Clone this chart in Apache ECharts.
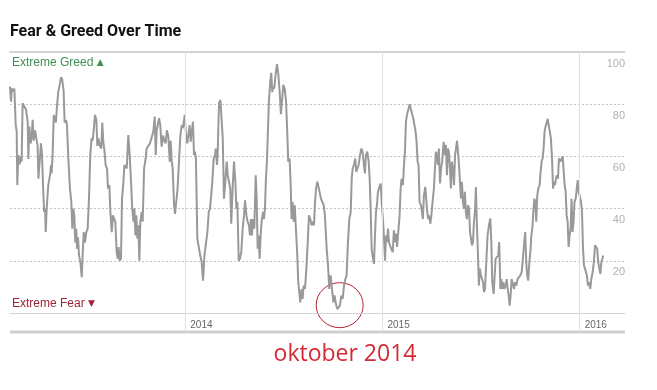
<!DOCTYPE html>
<html><head><meta charset="utf-8">
<script src="https://cdn.jsdelivr.net/npm/echarts@6/dist/echarts.min.js"></script>
<style>html,body{margin:0;padding:0;background:#fff}#c{width:657px;height:390px}</style>
</head><body><div id="c"></div>
<script>
// time in decimal years
const dates = [
2013.111,2013.116,2013.120,2013.128,2013.133,2013.140,2013.145,2013.148,2013.153,2013.160,2013.167,2013.170,2013.175,2013.184,2013.192,2013.201,2013.204,2013.209,2013.216,2013.221,2013.226,2013.231,2013.238,2013.246,2013.251,2013.255,2013.262,2013.268,2013.273,2013.278,2013.284,2013.289,2013.292,2013.297,2013.305,2013.314,2013.319,2013.322,2013.327,2013.333,2013.339,2013.344,2013.349,2013.356,2013.363,2013.370,2013.376,2013.383,2013.388,2013.395,2013.400,2013.407,2013.415,2013.422,2013.427,2013.432,2013.437,2013.442,2013.447,2013.451,2013.456,2013.461,2013.468,2013.475,2013.480,2013.485,2013.491,2013.498,2013.505,2013.512,2013.518,2013.525,2013.530,2013.535,2013.542,2013.549,2013.554,2013.559,2013.567,2013.574,2013.579,2013.584,2013.589,2013.596,2013.603,2013.608,2013.615,2013.620,2013.627,2013.633,2013.640,2013.645,2013.652,2013.657,2013.662,2013.667,2013.674,2013.679,2013.686,2013.691,
2013.703,2013.711,2013.718,2013.725,2013.731,2013.737,2013.742,2013.747,2013.752,2013.757,2013.762,2013.767,2013.772,2013.779,2013.784,2013.791,2013.799,2013.804,2013.813,2013.821,2013.829,2013.838,2013.845,2013.850,2013.855,2013.862,2013.867,2013.873,2013.880,2013.887,2013.894,2013.900,2013.907,2013.914,2013.921,2013.926,2013.931,2013.936,2013.943,2013.948,2013.956,2013.961,2013.968,2013.975,2013.982,2013.988,2013.997,2014.004,2014.010,2014.015,2014.022,2014.027,2014.032,2014.039,2014.044,2014.049,2014.054,2014.061,2014.069,2014.076,2014.083,2014.090,2014.097,2014.105,2014.112,2014.119,2014.125,2014.130,2014.137,2014.144,2014.151,2014.154,2014.161,2014.164,2014.171,2014.178,2014.184,2014.190,2014.196,2014.203,2014.210,2014.215,2014.222,2014.228,2014.233,2014.240,2014.247,2014.254,2014.259,2014.264,2014.271,2014.277,2014.284,2014.291,2014.298,
2014.303,2014.310,2014.316,2014.323,2014.328,2014.333,2014.338,2014.343,2014.350,2014.357,2014.362,2014.367,2014.372,2014.377,2014.382,2014.387,2014.394,2014.399,2014.404,2014.409,2014.414,2014.419,2014.424,2014.431,2014.436,2014.441,2014.446,2014.451,2014.458,2014.465,2014.472,2014.479,2014.485,2014.492,2014.497,2014.504,2014.511,2014.517,2014.522,2014.529,2014.534,2014.539,2014.544,2014.550,2014.555,2014.561,2014.568,2014.573,2014.578,2014.583,2014.590,2014.595,2014.600,2014.607,2014.614,2014.621,2014.627,2014.634,2014.641,2014.648,2014.653,2014.658,2014.663,2014.670,2014.676,2014.681,2014.688,2014.695,2014.702,2014.708,2014.717,2014.724,2014.730,2014.737,2014.744,2014.751,2014.757,2014.764,2014.771,2014.778,2014.784,2014.791,2014.798,2014.805,2014.812,2014.818,2014.825,2014.832,2014.839,2014.844,2014.849,2014.855,2014.862,2014.867,2014.872,2014.879,2014.886,2014.893,2014.899,2014.906,
2014.911,2014.916,2014.923,2014.930,2014.935,2014.940,2014.945,2014.952,2014.957,2014.962,2014.967,2014.972,2014.977,2014.984,2014.991,2014.996,2015.003,2015.008,2015.013,2015.018,2015.023,2015.028,2015.033,2015.038,2015.045,2015.052,2015.058,2015.063,2015.068,2015.074,2015.080,2015.087,2015.092,2015.097,2015.104,2015.109,2015.114,2015.119,2015.126,2015.133,2015.138,2015.145,2015.150,2015.156,2015.163,2015.168,2015.173,2015.178,2015.183,2015.188,2015.195,2015.200,2015.205,2015.210,2015.217,2015.222,2015.227,2015.232,2015.237,2015.243,2015.248,2015.254,2015.261,2015.266,2015.271,2015.276,2015.281,2015.286,2015.292,2015.297,2015.303,2015.310,2015.317,2015.322,2015.327,2015.332,2015.337,2015.342,2015.347,2015.352,2015.357,2015.363,2015.368,2015.373,2015.378,2015.383,2015.388,2015.393,2015.398,2015.403,2015.408,2015.413,2015.418,2015.423,2015.428,2015.434,2015.439,2015.444,2015.449,2015.454,2015.459,2015.464,2015.469,2015.474,2015.479,2015.484,2015.489,2015.494,2015.499,2015.505,2015.510,2015.515,
2015.520,2015.533,2015.540,2015.547,2015.552,2015.557,2015.564,2015.569,2015.574,2015.581,2015.587,2015.592,2015.598,2015.603,2015.608,2015.613,2015.618,2015.625,2015.630,2015.635,2015.640,2015.645,2015.650,2015.655,2015.662,2015.667,2015.672,2015.679,2015.685,2015.692,2015.699,2015.706,2015.712,2015.719,2015.724,2015.729,2015.734,2015.739,2015.745,2015.750,2015.755,2015.760,2015.765,2015.770,2015.775,2015.780,2015.785,2015.790,2015.797,2015.802,2015.807,2015.812,2015.817,2015.822,2015.827,2015.832,2015.838,2015.843,2015.849,2015.854,2015.860,2015.865,2015.870,2015.875,2015.880,2015.885,2015.890,2015.895,2015.902,2015.909,2015.914,2015.919,2015.924,2015.929,2015.934,2015.939,2015.944,2015.949,2015.954,2015.959,2015.964,2015.969,2015.974,2015.980,2015.985,2015.990,2015.995,2016.000,2016.007,2016.012,2016.017,2016.022,2016.027,2016.032,2016.037,2016.042,2016.047,2016.054,2016.059,2016.066,2016.072,2016.078,2016.084,2016.089,2016.094,2016.100,2016.105,2016.110,2016.115,2016.120
];
const fearGreed = [
86.8,81,86,85,86,72,69.5,49,60.5,57,60,58,80.4,80.4,78,73,59,71.4,65,67.6,74,66,70,70,64,51.5,51,65,61,50,38.7,40,31,40,49,52.8,56.7,53.5,60.5,75.9,76.5,73,79,85,87.4,90.3,89.4,85,73,74,72,59,47.7,42.6,32.3,40,37.4,27,32.3,24.6,29,22,19.5,13.7,23.3,31,27,31,32.3,45,60.5,67,66,69.5,75.9,74,64,67,64,63,73,65.6,63,56.7,55.4,47.7,49,38.7,31,37.4,38,35,23.3,20.8,25.3,20,20.8,43.6,50,56.7,
55.4,68.2,60.5,50,40,35,40,29.7,37.4,28.5,33.6,20,35,38.7,35,55.4,59.2,63,62.4,65,64.4,69.5,75.3,60.5,70,69.5,74.6,72,63.7,68,66,65,70,67.6,58,66,58,55.4,41.3,38,38.7,47.7,58,68,72,70.8,75.9,68,65,68,72,65.6,65.6,73.3,60.5,61.8,59.2,28.5,29,22,19.5,12.4,22,22,31,38.7,40,43.8,50.3,59.2,60.5,63,56.7,60.5,80.4,81.7,81,67,43.8,50.3,58,52.8,50.3,47.7,34.2,47.7,58,50.3,40,42.6,20,20.8,23.3,32.3,37.4,
43.2,37.4,35,33.6,29.7,36,29.7,36,32.3,52.8,43.8,24.6,29.7,20.8,29.7,35,38.7,36,40,51.5,58,69.5,81,88.7,92,84.6,86.8,86,91.3,95.4,91.3,84.2,76.2,76.5,87.4,86,81,69.5,58,59.2,50.3,36,42.6,35,41.3,32.3,22,11.8,8,4.1,9.2,5.4,10.5,9.2,17,27.2,37.4,36,33.6,35,33.6,42.6,47.7,50.3,49.6,46.4,43.8,42.6,41.3,37.4,24.6,18.2,9.2,14.4,9.2,4.1,6.7,3.5,1.5,0.9,2.8,6.7,5.4,10.5,13,14.4,27.2,36,38.7,51.5,55.4,56.7,59.2,54.1,53.5,56.7,60.5,63,61.8,56.7,
53.5,60.5,61.8,58,51.5,40,24.6,20.8,18.8,29.7,38.7,41.3,46.4,48.3,49.6,42.6,35,28.5,20,29.7,27.2,32.3,27.2,25.9,24.6,23.3,31.7,27.2,30.4,25.3,25.9,37.4,47.7,51.5,49,56.7,61.8,73.3,76.5,78.5,80,77.8,78.5,74.6,74,69.5,65.6,58,56.7,42.6,41.3,38.7,36,45,48.3,48.3,38.7,36,37.4,34.2,37.4,42.6,47.7,55.4,61.8,60.5,56.7,63,49.6,55.4,58,65.6,60.5,64.4,52.8,63,61.8,55.4,47.7,58,55.4,49,60.5,63,66,61.8,56.7,50.3,43.8,50.3,42.6,40,46.4,38.7,36,41.3,40,31,28.5,25.9,27.2,35,38.7,48.3,33.6,23.3,10.5,17,14.4,13,11.8,8,
9.2,29.7,33.6,36.2,27.2,11.8,7.3,14.4,20.8,20.8,22,27.2,9.2,13,9.2,11.8,9.2,10.5,13,9.2,6.7,2.8,6.7,13,13.7,9.2,11.8,10.5,13,13.7,14.4,15.6,20.8,27.2,31,19.5,14.4,12.4,19.5,23.3,29.7,32.3,38.7,43.8,42.6,35,45,47.7,49,54.1,58,59.2,63,69.5,71.4,72.7,74.4,72,69.5,67,59.2,47.7,50.3,49,51.5,52.8,51.5,59.2,58,58,60,54.1,49,46.4,37.4,35,25.3,29.7,32.3,43.8,31,35,42.6,43.8,43.8,50.9,46.4,45,42.6,38.7,24.6,18.2,17,17,14.4,10.5,11.8,9.2,13,15.6,19.5,25.9,26.5,24.6,19.5,17,15,19.5,20.1,22
];
const yearTicks = [2014, 2015, 2016];
const xMin = 2013.111, xMax = 2016.23;
const highlight = [2014.783, 3]; // October 2014 low

const chart = echarts.init(document.getElementById('c'), null, {renderer: 'canvas'});
const seriesData = dates.map((d, i) => [d, fearGreed[i]]);
chart.setOption({
  animation: false,
  grid: {left: 10, right: 32, top: 52, bottom: 77, outerBoundsMode: 'none', containLabel: false},
  xAxis: [{
    type: 'value', min: xMin, max: xMax, position: 'bottom',
    axisLine: {show: true, lineStyle: {color: '#d4d4d4', width: 1}},
    axisTick: {show: true, customValues: yearTicks, length: 18, lineStyle: {color: '#e0e0e0', width: 1}},
    axisLabel: {customValues: yearTicks, formatter: v => String(Math.round(v)), color: '#666', fontSize: 10,
      fontFamily: 'Liberation Sans', align: 'left', padding: [0, 0, 0, 5], margin: 7},
    splitLine: {show: false}
  }, {
    type: 'value', min: xMin, max: xMax, position: 'top',
    axisLine: {show: true, lineStyle: {color: '#cccccc', width: 1.5}},
    axisTick: {show: false}, axisLabel: {show: false}, splitLine: {show: false}
  }],
  yAxis: {
    type: 'value', min: 0, max: 100, interval: 20, position: 'right',
    axisLine: {show: false}, axisTick: {show: false},
    splitLine: {show: true, lineStyle: {color: '#c4c4c4', type: [2, 2], width: 1}},
    axisLabel: {inside: true, margin: 0, color: '#b0b0b0', fontSize: 11, fontFamily: 'Liberation Sans',
      verticalAlign: 'top', padding: [6, 0, 0, 0], formatter: v => (v === 0 ? '' : String(v))}
  },
  series: [{
    type: 'line', data: seriesData, showSymbol: false, symbol: 'none',
    lineStyle: {color: '#999999', width: 2}, itemStyle: {color: '#999999'},
    markLine: {
      silent: true, symbol: 'none', label: {show: false},
      lineStyle: {color: '#e0e0e0', type: 'solid', width: 1},
      data: yearTicks.map(y => ({xAxis: y}))
    }
  }]
});

const c = chart.convertToPixel({xAxisIndex: 0, yAxisIndex: 0}, highlight);
chart.setOption({
  graphic: [
    {type: 'text', left: 10, top: 24, style: {text: 'Fear & Greed Over Time', fill: '#111', font: 'bold 16px Roboto, "Liberation Sans", sans-serif'}},
    {type: 'text', left: 12, top: 57, style: {
      text: '{t|Extreme Greed} {a|▲}',
      rich: {t: {fill: '#3f8f55', fontSize: 12, fontFamily: 'Liberation Sans'}, a: {fill: '#3f8f55', fontSize: 9, fontFamily: 'DejaVu Sans'}}
    }},
    {type: 'text', left: 12, top: 298, style: {
      text: '{t|Extreme Fear} {a|▼}',
      rich: {t: {fill: '#9c2234', fontSize: 12, fontFamily: 'Liberation Sans'}, a: {fill: '#9c2234', fontSize: 9, fontFamily: 'DejaVu Sans'}}
    }},
    {type: 'line', shape: {x1: 10, y1: 332, x2: 625, y2: 332}, style: {stroke: '#cfcfcf', lineWidth: 3}},
    {type: 'ellipse', shape: {cx: c[0], cy: c[1], rx: 23.5, ry: 22.5}, style: {fill: 'none', stroke: '#b3232f', lineWidth: 1}},
    {type: 'text', x: 345, y: 354, style: {text: 'oktober 2014', fill: '#d52a35', font: '23px "Open Sans", sans-serif', textAlign: 'center', textVerticalAlign: 'middle'}}
  ]
});
</script></body></html>
